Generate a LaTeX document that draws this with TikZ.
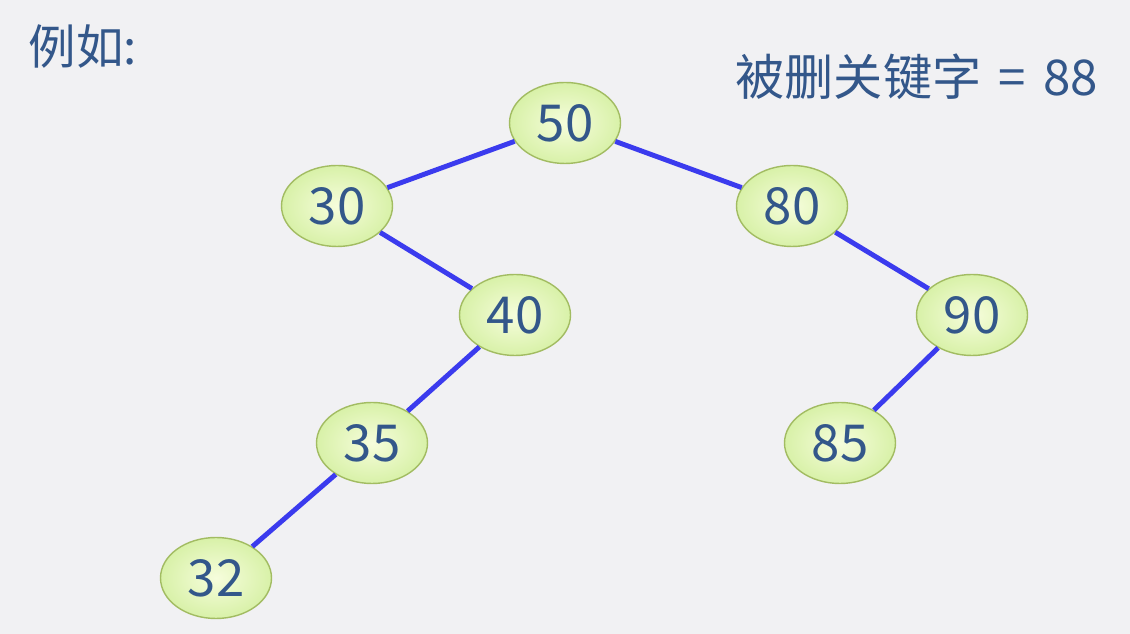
\documentclass[tikz,border=0pt]{standalone}
\usepackage{fontspec}
\newfontfamily\cjk{Noto Sans CJK SC}
\usepackage{xcolor}
\usepackage{tikz}
\usetikzlibrary{shapes.geometric}

\definecolor{bggray}{HTML}{F1F1F3}
\definecolor{txtblue}{HTML}{33578A}
\definecolor{edgeblue}{HTML}{3B3BEE}
\definecolor{nodein}{HTML}{F6FDDC}
\definecolor{nodeout}{HTML}{D8F1A8}
\definecolor{nodeline}{HTML}{A2BC62}

\begin{document}
\begin{tikzpicture}[
  every node/.style={font=\cjk, text=txtblue},
  keynode/.style={ellipse, draw=nodeline, line width=0.8pt,
    inner color=nodein, outer color=nodeout,
    minimum width=2.22cm, minimum height=1.62cm, inner sep=0pt,
    font=\cjk\fontsize{29}{32}\selectfont},
  treeedge/.style={edgeblue, line width=2.8pt},
]

%% ── Canvas: 1130 x 634 px, 1 px = 0.02 cm ────────────────────────────────
\fill[bggray] (0,0) rectangle (22.6,12.68);
\useasboundingbox (0,0) rectangle (22.6,12.68);

%% ── Captions ─────────────────────────────────────────────────────────────
\node[anchor=west, font=\cjk\fontsize{27}{30}\selectfont] (lblex) at (0.45, 11.74) {例如:};
\node[anchor=east, font=\cjk\fontsize{28}{31}\selectfont] (lbldel) at (22.08, 11.14)
  {被删关键字\hspace{0.35em}=\hspace{0.35em}88};

%% ── Tree nodes ───────────────────────────────────────────────────────────
\node[keynode] (k50) at (11.30, 10.22) {50};
\node[keynode] (k30) at ( 6.74,  8.56) {30};
\node[keynode] (k80) at (15.84,  8.56) {80};
\node[keynode] (k40) at (10.30,  6.38) {40};
\node[keynode] (k90) at (19.44,  6.38) {90};
\node[keynode] (k35) at ( 7.44,  3.82) {35};
\node[keynode] (k85) at (16.80,  3.82) {85};
\node[keynode] (k32) at ( 4.32,  1.12) {32};

%% ── Edges (border to border) ─────────────────────────────────────────────
\foreach \a/\b in {50/30, 50/80, 30/40, 80/90, 40/35, 90/85, 35/32}{
  \draw[treeedge] (k\a) -- (k\b);
}

\end{tikzpicture}
\end{document}
